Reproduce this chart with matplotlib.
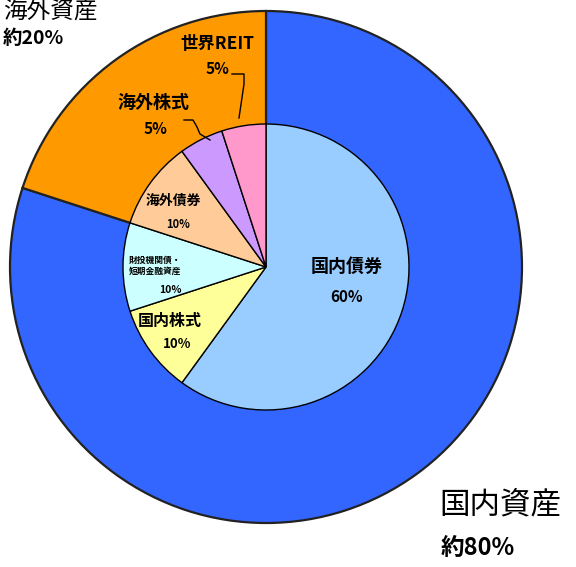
import matplotlib
matplotlib.use("Agg")
import matplotlib.pyplot as plt

plt.rcParams['font.family'] = ['Noto Sans CJK JP', 'DejaVu Sans']

outer_labels = ["国内資産", "海外資産"]
outer_values = [80, 20]
outer_colors = ["#3366FF", "#FF9900"]

inner_labels = ["国内債券", "国内株式", "財投機関債・\n短期金融資産", "海外債券", "海外株式", "世界REIT"]
inner_values = [60, 10, 10, 10, 5, 5]
inner_colors = ["#99CCFF", "#FFFF99", "#CCFFFF", "#FFCC99", "#CC99FF", "#FF99CC"]

W, H = 576, 567
fig = plt.figure(figsize=(W / 100, H / 100), dpi=100)
ax = fig.add_axes([0, 0, 1, 1])

cx, cy = 266, H - 267
R_out, R_in = 256, 143

ax.pie(outer_values, colors=outer_colors, startangle=90, counterclock=False,
       radius=R_out, center=(cx, cy),
       wedgeprops=dict(edgecolor='#222222', linewidth=1.6), frame=True)
ax.pie(inner_values, colors=inner_colors, startangle=90, counterclock=False,
       radius=R_in, center=(cx, cy),
       wedgeprops=dict(edgecolor='black', linewidth=1.0), frame=True)
ax.set_xlim(0, W)
ax.set_ylim(0, H)
ax.set_aspect('equal')
ax.axis('off')

def T(x, y, s, size, weight='bold', ha='center', **kw):
    ax.text(x, H - y, s, fontsize=size, fontweight=weight, ha=ha, va='center', color='black', **kw)

# inner labels
T(347, 266, inner_labels[0], 13)
T(347, 297, f"{inner_values[0]}%", 11)
T(170, 321, inner_labels[1], 11.5)
T(177, 344, f"{inner_values[1]}%", 9.5)
T(155, 266, inner_labels[2], 6.3, linespacing=1.25)
T(170, 290, f"{inner_values[2]}%", 7.5)
T(173, 201, inner_labels[3], 10)
T(178, 225, f"{inner_values[3]}%", 8)
T(153, 102, inner_labels[4], 13)
T(155, 129, f"{inner_values[4]}%", 11)
T(217, 44, inner_labels[5], 12.5)
T(217, 69, f"{inner_values[5]}%", 11)

# leader lines
ax.plot([184, 193, 197, 200, 210], [H - 120, H - 120, H - 127, H - 134, H - 140], color='black', lw=1)
ax.plot([232, 244, 244, 239], [H - 74, H - 74, H - 84, H - 118], color='black', lw=1)

# outer labels
T(500, 505, outer_labels[0], 22, weight='normal')
T(478, 548, f"約{outer_values[0]}%", 17)
T(3, 12, outer_labels[1], 17, weight='normal', ha='left')
T(3, 38, f"約{outer_values[1]}%", 14, ha='left')

fig.savefig("out.png", dpi=100, facecolor='white')
